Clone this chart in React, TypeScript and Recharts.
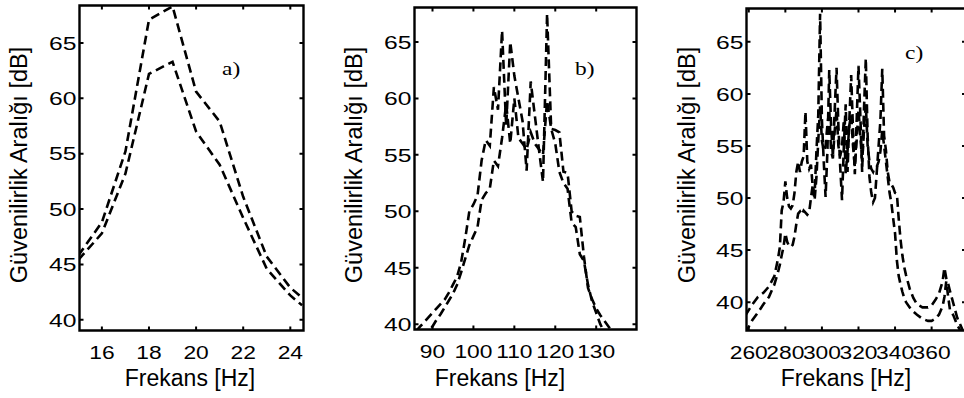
import { Line, LineChart, ReferenceArea, XAxis, YAxis } from "recharts";

// a) 15-24 Hz
const freqA = [15, 16, 17, 18, 19, 20, 21, 22, 23, 24, 24.5];
const upperA = [45.8, 48.8, 55.2, 67.1, 68.3, 60.6, 57.9, 51.1, 45.7, 42.9, 42.0];
const lowerA = [45.4, 47.8, 53.2, 62.2, 63.3, 57.0, 54.0, 49.2, 44.6, 42.2, 41.3];

// b) 86-134 Hz
const freqB = [
  86, 87, 88, 89, 90, 91, 92, 93, 94, 95, 96, 97, 98, 99, 100, 101, 102, 103, 104, 105,
  106, 107, 108, 109, 110, 111, 112, 113, 114, 115, 116, 117, 118, 119, 120, 121, 122,
  123, 124, 125, 126, 127, 128, 129, 130, 131, 132, 133, 134,
];
const upperB = [
  39.4, 39.8, 40.2, 40.6, 41.0, 41.4, 41.8, 42.2, 42.8, 43.5, 44.2, 45.5, 47.6, 50.0,
  50.6, 51.4, 54.5, 56.3, 55.8, 61.0, 59.0, 66.0, 57.5, 65.0, 62.0, 60.0, 58.0, 53.6,
  61.5, 58.5, 55.5, 52.6, 67.5, 57.3, 57.2, 57.0, 53.5, 53.4, 50.0, 49.6, 49.5, 46.0,
  43.2, 42.2, 41.4, 40.8, 40.3, 39.8, 39.3,
];
const lowerB = [
  37.6, 38.2, 38.8, 39.3, 39.8, 40.4, 40.9, 41.5, 42.1, 42.7, 43.5, 44.6, 45.8, 47.0,
  47.8, 48.6, 51.0, 51.6, 52.0, 54.5, 54.0, 56.5, 59.5, 56.0, 60.0, 56.5, 56.0, 55.5,
  57.0, 56.0, 55.5, 55.0, 59.8, 57.3, 56.0, 53.5, 52.5, 52.0, 49.0, 48.6, 46.2, 45.6,
  43.5, 42.0, 41.0, 40.0, 39.3, 38.7, 38.2,
];

// c) 258-379 Hz
const freqC = [
  258, 262, 265, 268, 271, 274, 276, 277, 278, 279, 280, 281, 282, 283, 284, 285, 286,
  287, 288, 289, 290, 291, 292, 293, 294, 295, 296, 297, 298, 299, 300, 301, 302, 303,
  304, 305, 306, 307, 308, 309, 310, 311, 312, 313, 314, 315, 316, 317, 318, 319, 320,
  321, 322, 323, 324, 325, 326, 327, 328, 329, 330, 331, 332, 333, 334, 335, 336, 337,
  338, 339, 340, 341, 342, 343, 344, 345, 346, 348, 350, 352, 355, 358, 360, 362, 364,
  366, 367, 368, 369, 370, 372, 374, 377, 379,
];
const upperC = [
  38.7, 39.8, 40.5, 40.9, 41.5, 42.5, 44.2, 45.3, 48.8, 49.6, 51.6, 50.0, 49.2, 49.0,
  49.3, 50.5, 52.5, 53.5, 52.5, 53.5, 54.0, 58.3, 53.5, 52.8, 53.2, 51.0, 50.3, 54.5,
  58.0, 67.7, 57.5, 53.5, 50.1, 54.5, 62.3, 57.0, 54.0, 58.5, 62.5, 57.0, 53.0, 49.8,
  55.0, 59.0, 52.5, 57.5, 61.8, 56.5, 52.3, 57.5, 62.7, 58.0, 52.5, 58.5, 63.4, 56.0,
  52.0, 50.5, 49.6, 50.0, 52.5, 55.0, 57.5, 62.4, 56.0, 54.6, 52.5, 51.5, 51.3, 51.0,
  50.5, 50.4, 48.0, 46.0, 44.5, 43.4, 42.6, 41.3, 40.4, 39.8, 39.5, 39.5, 39.7, 40.2,
  40.8, 42.0, 43.3, 42.3, 41.8, 41.1, 39.8, 38.5, 37.3, 36.6,
];
const lowerC = [
  37.0, 38.3, 39.0, 39.8, 40.5, 41.7, 42.9, 43.6, 44.5, 45.3, 46.6, 45.8, 45.4, 45.3,
  45.5, 46.3, 47.5, 48.5, 48.7, 48.4, 48.8, 48.6, 48.4, 48.6, 50.0, 51.3, 49.8, 52.0,
  55.5, 58.8, 55.5, 54.5, 55.0, 57.0, 58.5, 54.5, 53.8, 56.5, 58.5, 55.0, 54.0, 55.0,
  57.5, 52.3, 54.5, 57.0, 58.0, 55.0, 53.0, 55.5, 58.5, 56.0, 53.5, 56.5, 59.0, 55.0,
  53.5, 52.8, 52.5, 53.0, 53.0, 53.5, 54.5, 56.5, 55.0, 53.5, 52.0, 50.5, 49.5, 48.0,
  46.6, 44.0, 42.5, 41.7, 41.0, 40.4, 40.0, 39.5, 39.1, 38.8, 38.4, 38.2, 38.2, 38.4,
  38.8, 39.6, 40.5, 42.0, 40.6, 39.3, 38.7, 37.8, 36.9, 36.4,
];

const yTicks = [40, 45, 50, 55, 60, 65];

const H = 398;
const SANS = "'Liberation Sans', Arial, Helvetica, sans-serif";
const SERIF = "'Liberation Serif', 'Times New Roman', serif";
const TICK_FONT = 19;
const IN = 4; // inward tick length
const FRAME = 2.4;

const rows = (f: number[], hi: number[], lo: number[]) =>
  f.map((v, i) => ({ f: v, hi: hi[i], lo: lo[i] }));

// bottom ticks also mirror a tick on the top edge of the box
const bottomTick = (top: number) => ({ x, y, payload }: any) => (
  <g>
    <path d={`M${x},${y}V${y - IN}M${x},${top}V${top + IN}`} stroke="#000" strokeWidth={2} fill="none" />
    <text
      transform={`translate(${x},${y + 28.5}) scale(1.2,1)`}
      textAnchor="middle"
      fontFamily={SANS}
      fontSize={TICK_FONT}
      fill="#000"
    >
      {payload.value}
    </text>
  </g>
);

// left ticks also mirror a tick on the right edge of the box
const leftTick = (right: number) => ({ x, y, payload }: any) => (
  <g>
    <path d={`M${x},${y}H${x + IN}M${right},${y}H${right - IN}`} stroke="#000" strokeWidth={2} fill="none" />
    <text
      transform={`translate(${x - 3},${y + 6.8}) scale(1.3,1)`}
      textAnchor="end"
      fontFamily={SANS}
      fontSize={TICK_FONT}
      fill="#000"
    >
      {payload.value}
    </text>
  </g>
);

type PanelProps = {
  left: number;
  width: number;
  box: [number, number, number, number]; // plot left, top, right, bottom (panel coords)
  xDomain: [number, number];
  yDomain: [number, number];
  xTicks: number[];
  data: { f: number; hi: number; lo: number }[];
  tag: string;
  tagAt: [number, number];
  xTitleX: number;
  yTitleX: number;
};

function Panel({ left, width, box, xDomain, yDomain, xTicks, data, tag, tagAt, xTitleX, yTitleX }: PanelProps) {
  const [pl, pt, pr, pb] = box;
  return (
    <div style={{ position: "absolute", left, top: 0, width, height: H }}>
      <LineChart
        width={width}
        height={H}
        data={data}
        margin={{ top: pt, right: width - pr, bottom: 0, left: 0 }}
      >
        <XAxis
          dataKey="f"
          type="number"
          domain={xDomain}
          ticks={xTicks}
          interval={0}
          allowDataOverflow
          height={H - pb}
          tickSize={0}
          tickMargin={0}
          axisLine={false}
          tickLine={false}
          tick={bottomTick(pt)}
        />
        <YAxis
          type="number"
          domain={yDomain}
          ticks={yTicks}
          interval={0}
          allowDataOverflow
          width={pl}
          tickSize={0}
          tickMargin={0}
          axisLine={false}
          tickLine={false}
          tick={leftTick(pr)}
        />
        <ReferenceArea
          x1={xDomain[0]}
          x2={xDomain[1]}
          y1={yDomain[0]}
          y2={yDomain[1]}
          fill="none"
          stroke="#000"
          strokeWidth={FRAME}
          ifOverflow="visible"
        />
        <Line
          type="linear"
          dataKey="hi"
          stroke="#000"
          strokeWidth={2.6}
          strokeDasharray="9 5"
          dot={false}
          activeDot={false}
          isAnimationActive={false}
        />
        <Line
          type="linear"
          dataKey="lo"
          stroke="#000"
          strokeWidth={2.6}
          strokeDasharray="9 5"
          dot={false}
          activeDot={false}
          isAnimationActive={false}
        />
      </LineChart>
      <svg
        width={width}
        height={H}
        style={{ position: "absolute", left: 0, top: 0, pointerEvents: "none" }}
      >
        <text
          x={xTitleX - left}
          y={386}
          textAnchor="middle"
          fontFamily={SANS}
          fontSize={23}
          fill="#000"
        >
          Frekans [Hz]
        </text>
        <text
          transform={`translate(${yTitleX - left},165) rotate(-90)`}
          textAnchor="middle"
          fontFamily={SANS}
          fontSize={23.5}
          fill="#000"
        >
          Güvenilirlik Aralığı [dB]
        </text>
        <text
          transform={`translate(${tagAt[0] - left},${tagAt[1]}) scale(1.3,1)`}
          fontFamily={SERIF}
          fontSize={18}
          fill="#000"
        >
          {tag}
        </text>
      </svg>
    </div>
  );
}

export default function App() {
  return (
    <div
      style={{
        position: "absolute",
        left: 0,
        top: 0,
        width: 964,
        height: H,
        overflow: "hidden",
        background: "#fff",
      }}
    >
      <Panel
        left={0}
        width={320}
        box={[79.5, 5.5, 303.5, 330.5]}
        xDomain={[15.05, 24.56]}
        yDomain={[39.03, 68.38]}
        xTicks={[16, 18, 20, 22, 24]}
        data={rows(freqA, upperA, lowerA)}
        tag="a)"
        tagAt={[222, 74.5]}
        xTitleX={190}
        yTitleX={26.8}
      />
      <Panel
        left={320}
        width={320}
        box={[94.5, 7.5, 316.5, 329.5]}
        xDomain={[85.6, 139.85]}
        yDomain={[39.53, 68.05]}
        xTicks={[90, 100, 110, 120, 130]}
        data={rows(freqB, upperB, lowerB)}
        tag="b)"
        tagAt={[575, 75]}
        xTitleX={500}
        yTitleX={361.8}
      />
      <Panel
        left={640}
        width={330}
        box={[106.5, 8.5, 326, 330.5]}
        xDomain={[258.75, 378.8]}
        yDomain={[37.28, 68.2]}
        xTicks={[260, 280, 300, 320, 340, 360]}
        data={rows(freqC, upperC, lowerC)}
        tag="c)"
        tagAt={[905, 58.5]}
        xTitleX={846}
        yTitleX={695}
      />
    </div>
  );
}
